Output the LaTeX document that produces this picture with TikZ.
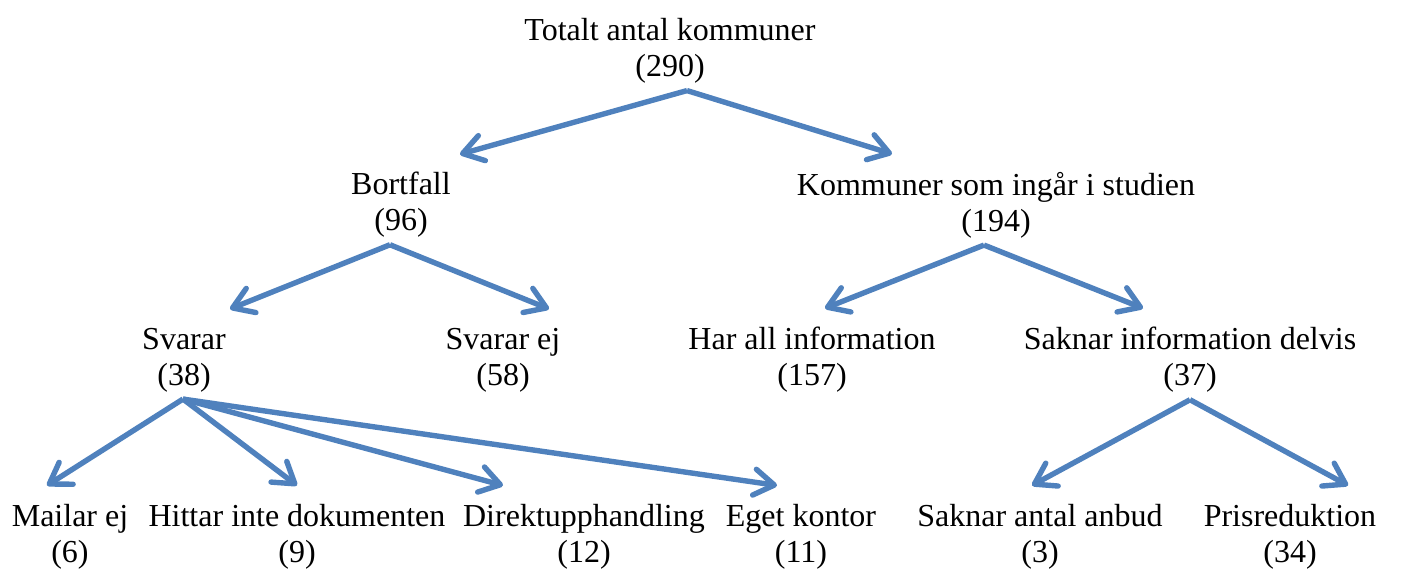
\documentclass[tikz,border=0pt]{standalone}
\usepackage{fontspec}
\setmainfont{Liberation Serif}
\usepackage{tikz}
\usetikzlibrary{arrows.meta,positioning,calc}
\definecolor{arrowblue}{RGB}{79,129,189}

\begin{document}
\begin{tikzpicture}[x=0.5pt, y=-0.5pt,
    every node/.style={font=\fontsize{16}{18}\selectfont, align=center},
    link/.style={draw=arrowblue, line width=2.7pt, line join=round,
        -{Straight Barb[length=10pt,width=13pt,line join=round,line cap=round]}}]
    \useasboundingbox (0,0) rectangle (1404,569);
    \node (tot) at (670,51) {Totalt antal kommuner\\(290)};
    \node (bort) at (401,205) {Bortfall\\(96)};
    \node (komm) at (996,205) {Kommuner som ingår i studien\\(194)};
    \node (svar) at (184,360) {Svarar\\(38)};
    \node (svarej) at (503,360) {Svarar ej\\(58)};
    \node (harall) at (812,360) {Har all information\\(157)};
    \node (saknar) at (1190,360) {Saknar information delvis\\(37)};
    \node (mailar) at (70,537) {Mailar ej\\(6)};
    \node (hittar) at (297,537) {Hittar inte dokumenten\\(9)};
    \node (direkt) at (584,537) {Direktupphandling\\(12)};
    \node (eget) at (801,537) {Eget kontor\\(11)};
    \node (antal) at (1040,537) {Saknar antal anbud\\(3)};
    \node (pris) at (1290,537) {Prisreduktion\\(34)};
    \draw[link] ($(tot.south)+(17,0)$) -- ($(bort.north)+(59,-11)$);
    \draw[link] ($(tot.south)+(17,0)$) -- ($(komm.north)+(-104,-11)$);
    \draw[link] ($(bort.south)+(-11,0)$) -- ($(svar.north)+(46,-12)$);
    \draw[link] ($(bort.south)+(-11,0)$) -- ($(svarej.north)+(46,-12)$);
    \draw[link] ($(komm.south)+(-12,0)$) -- ($(harall.north)+(13,-12)$);
    \draw[link] ($(komm.south)+(-12,0)$) -- ($(saknar.north)+(-47,-12)$);
    \draw[link] ($(svar.south)+(-1,0)$) -- ($(mailar.north)+(-23,-12)$);
    \draw[link] ($(svar.south)+(-1,0)$) -- ($(hittar.north)+(0,-12)$);
    \draw[link] ($(svar.south)+(-1,0)$) -- ($(direkt.north)+(-81,-12)$);
    \draw[link] ($(svar.south)+(-1,0)$) -- ($(eget.north)+(-24,-12)$);
    \draw[link] (saknar.south) -- ($(antal.north)+(-8,-12)$);
    \draw[link] (saknar.south) -- ($(pris.north)+(58,-12)$);
\end{tikzpicture}
\end{document}
